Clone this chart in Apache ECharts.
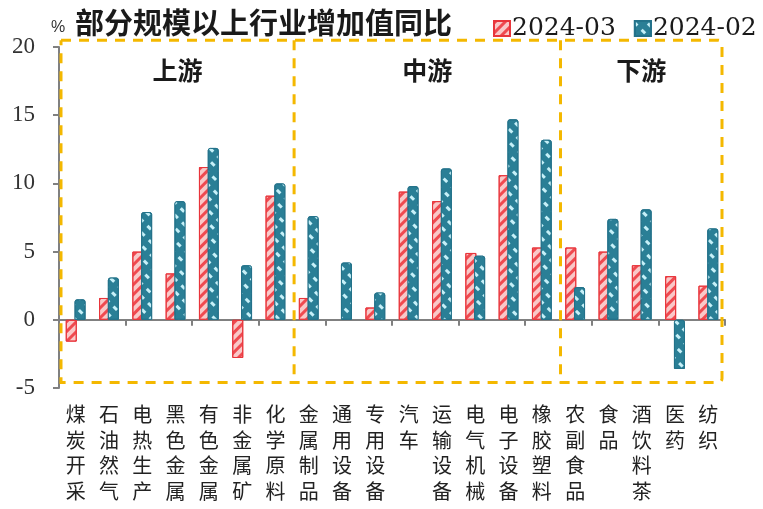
<!DOCTYPE html>
<html><head><meta charset="utf-8">
<script src="https://cdn.jsdelivr.net/npm/echarts@6/dist/echarts.min.js"></script>
<style>html,body{margin:0;padding:0;background:#fff}#c{width:763px;height:509px}</style>
</head><body><div id="c"></div>
<script>
var categories = ['煤炭开采','石油然气','电热生产','黑色金属','有色金属','非金属矿','化学原料','金属制品','通用设备','专用设备','汽车','运输设备','电气机械','电子设备','橡胶塑料','农副食品','食品','酒饮料茶','医药','纺织'];
var mar2024 = [-1.6, 1.6, 5.0, 3.4, 11.2, -2.8, 9.1, 1.6, null, 0.9, 9.4, 8.7, 4.9, 10.6, 5.3, 5.3, 5.0, 4.0, 3.2, 2.5];
var feb2024 = [1.5, 3.1, 7.9, 8.7, 12.6, 4.0, 10.0, 7.6, 4.2, 2.0, 9.8, 11.1, 4.7, 14.7, 13.2, 2.4, 7.4, 8.1, -3.6, 6.7];
var groupNames = ['上游','中游','下游'];
var groupSizes = [7, 8, 5];
var yTicks = [-5, 0, 5, 10, 15, 20];
var seriesNames = ['2024-03','2024-02'];

var chart = echarts.init(document.getElementById('c'));
var cjk = 'Noto Sans CJK SC';
var option = {
  animation: false,
  backgroundColor: '#fff',
  title: {text: '部分规模以上行业增加值同比', left: 70, top: 3,
    textStyle: {fontFamily: cjk, fontSize: 29, fontWeight: 'bold', color: '#1a1a1a'}},
  legend: {left: 488, top: 11, itemWidth: 16, itemHeight: 15, itemGap: 18, icon: 'rect',
    textStyle: {fontFamily: 'DejaVu Serif', fontSize: 25, color: '#1a1a1a', padding: [0,0,0,-3]},
    data: seriesNames},
  grid: {left: 59, right: 38, top: 47, bottom: 121, outerBoundsMode: 'none', containLabel: false},
  xAxis: [{
    type: 'category', data: categories, position: 'bottom',
    axisLine: {onZero: true, lineStyle: {color: '#808080', width: 2}},
    axisTick: {show: true, length: 6, lineStyle: {color: '#808080', width: 2}},
    axisLabel: {show: false}
  }, {
    type: 'category', data: categories, position: 'bottom',
    axisLine: {show: false}, axisTick: {show: false},
    axisLabel: {show: true, interval: 0, margin: 14, fontFamily: cjk, fontSize: 20, lineHeight: 25.5, color: '#222',
      formatter: function (v) { return v.split('').join('\n'); }}
  }],
  yAxis: {
    type: 'value', min: yTicks[0], max: yTicks[yTicks.length-1], interval: 5,
    splitLine: {show: false},
    axisLine: {show: true, lineStyle: {color: '#808080', width: 2}},
    axisTick: {show: true, length: 6, lineStyle: {color: '#808080', width: 2}},
    axisLabel: {fontFamily: 'Liberation Serif', fontSize: 23, color: '#333', margin: 24}
  },
  series: [{
    name: seriesNames[0], type: 'bar', data: mar2024, barWidth: 11, barGap: '-20%',
    itemStyle: {color: '#F9C8C8', borderColor: '#E8353B', borderWidth: 1,
      decal: {symbol: 'rect', symbolSize: 1, color: '#EF4A50', dashArrayX: [1, 0], dashArrayY: [3, 4], rotation: -Math.PI/4}}
  }, {
    name: seriesNames[1], type: 'bar', data: feb2024, barWidth: 11,
    itemStyle: {color: '#2A7F96', borderColor: '#23728A', borderWidth: 1, borderRadius: [2,2,0,0],
      decal: {symbol: 'rect', symbolSize: 1, color: '#C6F0F8', dashArrayX: [5, 6], dashArrayY: [2.5, 6], rotation: Math.PI/4}}
  }]
};
chart.setOption(option);

function drawBoxes() {
  var c0 = chart.convertToPixel({xAxisIndex: 0}, 0);
  var c1 = chart.convertToPixel({xAxisIndex: 0}, 1);
  var band = c1 - c0;
  var x0 = c0 - band/2;
  var yTop = chart.convertToPixel({yAxisIndex: 0}, 20.5);
  var yBot = chart.convertToPixel({yAxisIndex: 0}, -4.6);
  var yLab = chart.convertToPixel({yAxisIndex: 0}, 18.3);
  var dash = {stroke: '#F4B800', lineWidth: 3, lineDash: [10, 8], fill: null};
  var els = [];
  var total = groupSizes.reduce(function(a,b){return a+b;},0);
  var left = x0 + 2, right = x0 + band*total - 3;
  els.push({type: 'rect', shape: {x: left, y: yTop, width: right-left, height: yBot-yTop, r: [0,4,4,0]}, style: dash, silent: true, z: 1});
  var acc = 0;
  for (var g = 0; g < groupSizes.length; g++) {
    var gs = x0 + band*acc, ge = x0 + band*(acc+groupSizes[g]);
    var gl = g === 0 ? left : gs + 2;
    var gr = g === groupSizes.length-1 ? right : ge + 2;
    if (g < groupSizes.length-1) {
      els.push({type: 'line', shape: {x1: ge + 2, y1: yTop, x2: ge + 2, y2: yBot}, style: dash, silent: true, z: 1});
    }
    els.push({type: 'text', x: (gl+gr)/2, y: yLab, style: {text: groupNames[g], fontFamily: cjk, fontSize: 25, fontWeight: 'bold', fill: '#1a1a1a', align: 'center', verticalAlign: 'middle'}, z: 5});
    acc += groupSizes[g];
  }
  els.push({type: 'text', x: 58, y: 28, style: {text: '%', fontFamily: 'Liberation Sans', fontSize: 16, fill: '#333', align: 'center', verticalAlign: 'middle'}});
  chart.setOption({graphic: els});
}
drawBoxes();
</script></body></html>
